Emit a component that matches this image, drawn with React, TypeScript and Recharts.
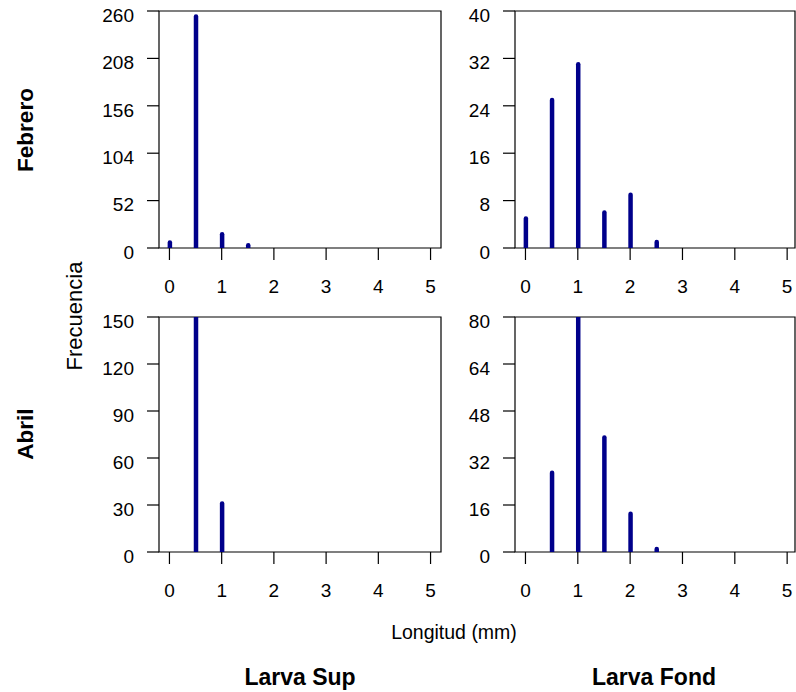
import React from 'react'
import { BarChart, Bar, XAxis, YAxis, ReferenceArea } from 'recharts'

// longitudes (mm) y frecuencias
const lengths = [0, 0.5, 1, 1.5, 2, 2.5]
const febreroSup = [6, 254, 15, 3, 0, 0]
const febreroFond = [5, 25, 31, 6, 9, 1]
const abrilSup = [0, 150, 31, 0, 0, 0]
const abrilFond = [0, 27, 80, 39, 13, 1]

const xTicks = [0, 1, 2, 3, 4, 5]
const febreroSupTicks = [0, 52, 104, 156, 208, 260]
const febreroFondTicks = [0, 8, 16, 24, 32, 40]
const abrilSupTicks = [0, 30, 60, 90, 120, 150]
const abrilFondTicks = [0, 16, 32, 48, 64, 80]

const BLUE = '#00008b'
const FONT = '"Liberation Sans", Arial, Helvetica, sans-serif'
const YW = 60
const MT = 10
const MR = 1
const XH = 50

const XTick = (props: any) => {
  const { x, y, payload } = props
  return (
    <text x={x} y={y} dy={32.5} textAnchor="middle" fontSize={19} fill="#000">
      {payload.value}
    </text>
  )
}

const YTick = (props: any) => {
  const { x, y, payload } = props
  return (
    <text x={x} y={y} dy={10.7} textAnchor="end" fontSize={19} fill="#000">
      {payload.value}
    </text>
  )
}

// barra tipo "h": linea vertical con extremos redondeados
const Spike = (props: any) => {
  const { x, y, width, height } = props
  if (!height || height <= 0) return <g />
  const cx = x + width / 2
  return (
    <line x1={cx} x2={cx} y1={y} y2={y + height} stroke={BLUE} strokeWidth={4.5} strokeLinecap="round" />
  )
}

interface PanelProps {
  values: number[]
  yTicks: number[]
  left: number
  top: number
  plotW: number
  plotH: number
  xMax: number
}

function Panel({ values, yTicks, left, top, plotW, plotH, xMax }: PanelProps) {
  const data = lengths.map((x, i) => ({ x, n: values[i] }))
  const yMax = yTicks[yTicks.length - 1]
  return (
    <div style={{ position: 'absolute', left: left - YW, top: top - MT }}>
      <BarChart
        width={YW + plotW + MR}
        height={MT + plotH + XH}
        data={data}
        margin={{ top: MT, right: MR, bottom: 0, left: 0 }}
      >
        <XAxis
          type="number"
          dataKey="x"
          domain={[-0.2, xMax]}
          ticks={xTicks}
          interval={0}
          allowDataOverflow
          axisLine={false}
          tickLine={{ stroke: '#000', strokeWidth: 1.2 }}
          tickSize={12}
          tickMargin={0}
          height={XH}
          tick={<XTick />}
        />
        <YAxis
          type="number"
          domain={[0, yMax]}
          ticks={yTicks}
          interval={0}
          allowDataOverflow
          axisLine={false}
          tickLine={{ stroke: '#000', strokeWidth: 1.2 }}
          tickSize={12}
          tickMargin={13}
          width={YW}
          tick={<YTick />}
        />
        <ReferenceArea x1={-0.2} x2={xMax} y1={0} y2={yMax} fill="none" stroke="#000" strokeWidth={1.2} />
        <Bar dataKey="n" barSize={5} shape={<Spike />} isAnimationActive={false} />
      </BarChart>
    </div>
  )
}

export default function App() {
  return (
    <div
      style={{
        position: 'absolute',
        left: 0,
        top: 0,
        width: 796,
        height: 692,
        overflow: 'hidden',
        background: '#fff',
        fontFamily: FONT,
      }}
    >
      <Panel values={febreroSup} yTicks={febreroSupTicks} left={159} top={11} plotW={282} plotH={237} xMax={5.2} />
      <Panel values={febreroFond} yTicks={febreroFondTicks} left={515} top={11} plotW={280} plotH={237} xMax={5.15} />
      <Panel values={abrilSup} yTicks={abrilSupTicks} left={159} top={317} plotW={282} plotH={235} xMax={5.2} />
      <Panel values={abrilFond} yTicks={abrilFondTicks} left={515} top={317} plotW={280} plotH={235} xMax={5.15} />

      <svg width={796} height={692} style={{ position: 'absolute', left: 0, top: 0, pointerEvents: 'none' }}>
        <text transform="translate(33,130) rotate(-90)" textAnchor="middle" fontSize={22.5} fontWeight="bold" fill="#000">
          Febrero
        </text>
        <text transform="translate(33,434) rotate(-90)" textAnchor="middle" fontSize={22.5} fontWeight="bold" fill="#000">
          Abril
        </text>
        <text transform="translate(82,316) rotate(-90)" textAnchor="middle" fontSize={22} fill="#000">
          Frecuencia
        </text>
        <text x={454} y={639} textAnchor="middle" fontSize={19.5} fill="#000">
          Longitud (mm)
        </text>
        <text x={300} y={685} textAnchor="middle" fontSize={23} fontWeight="bold" fill="#000">
          Larva Sup
        </text>
        <text x={654} y={685} textAnchor="middle" fontSize={23} fontWeight="bold" fill="#000">
          Larva Fond
        </text>
      </svg>
    </div>
  )
}
